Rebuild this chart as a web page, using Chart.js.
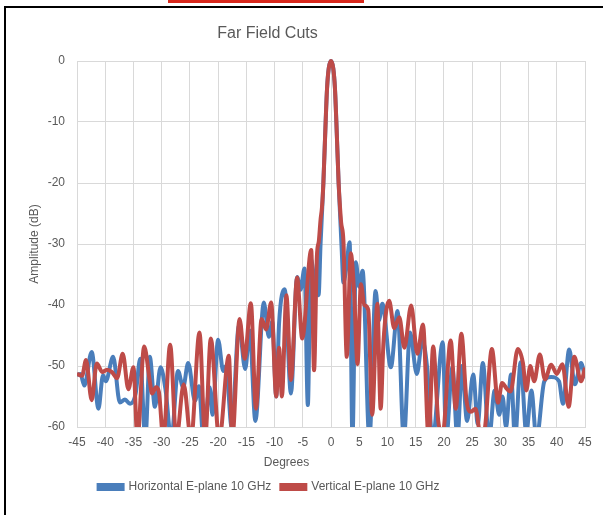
<!DOCTYPE html>
<html>
<head>
<meta charset="utf-8">
<script src="https://cdn.jsdelivr.net/npm/chart.js@4"></script>
<style>
  html, body { margin: 0; padding: 0; background: #fff; width: 603px; height: 515px; overflow: hidden; }
  #frame { position: absolute; left: 4px; top: 6px; width: 700px; height: 600px; border-left: 2px solid #000; border-top: 2px solid #000; }
  #redbar { position: absolute; left: 168px; top: 0; width: 196px; height: 3px; background: #d8281c; }
  #wrap { position: absolute; left: 0; top: 0; width: 603px; height: 515px; }
</style>
</head>
<body>
<div id="frame"></div>
<div id="redbar"></div>
<div id="wrap"><canvas id="c"></canvas></div>
<script>
// ---- Data ----
const chartTitle = "Far Field Cuts";
const xTitle = "Degrees";
const yTitle = "Amplitude (dB)";
const seriesNames = ["Horizontal E-plane 10 GHz", "Vertical E-plane 10 GHz"];

// Horizontal E-plane (blue): angle (deg) and amplitude (dB)
const hDeg = [-45,-44.4,-43.7,-42.4,-41.2,-40.4,-39.9,-38.6,-37.4,-36.5,-35.6,-34.6,-33.8,-32.9,-32.1,-31.2,-30.2,-29.3,-28.3,-27.1,-26.2,-25.3,-24.1,-23.4,-22.6,-21.5,-21.0,-20.0,-19.1,-18.6,-17.6,-16.3,-15.2,-14.4,-13.4,-11.9,-11.0,-10.4,-9.7,-9.2,-8.2,-7.1,-6.0,-5.4,-4.7,-4.1,-3.6,-2.9,-2.2,-1.85,-1.35,-0.95,-0.7,-0.4,0,0.4,0.7,0.95,1.35,1.9,2.2,2.7,3.3,3.8,4.4,5.0,5.6,6.8,7.9,8.5,9.1,10.6,11.8,12.9,14.0,15.2,16.2,17.0,18.0,19.8,20.4,21.5,22.4,23.2,24.1,25.2,26.0,26.9,28.0,29.0,29.8,30.4,31.0,31.9,32.6,33.6,34.6,35.5,36.4,37.8,39.0,40.4,41.1,42.2,43.2,44.3,45];
const hDb  = [-51.5,-51.3,-53.2,-47.7,-57,-51.5,-52.5,-48.5,-56,-55.5,-56.2,-54.5,-48.8,-62,-48.5,-56.7,-50.2,-54,-62,-50.8,-53.5,-49.5,-55.7,-53.3,-62,-53.5,-58,-45.7,-50.8,-50,-60,-43.3,-50.5,-44.2,-59,-39.6,-45.2,-42.7,-55,-43,-37.4,-54.5,-35.4,-37.5,-34,-56.4,-32.4,-36,-38.4,-30,-20,-10,-4.5,-1.2,0,-1.2,-4.5,-10,-20,-31,-36.3,-34,-29.7,-62,-33,-37,-34.4,-62,-37.7,-42.5,-39.8,-50.2,-41,-62,-44.5,-51.3,-45.8,-50,-62,-46.1,-62,-50.2,-62,-50,-59,-51.4,-59.5,-49.5,-62,-54,-58,-55,-60,-51.4,-62,-49.4,-61,-54,-62,-52.5,-51.8,-52.5,-56.2,-47.3,-53,-49.5,-52];

// Vertical E-plane (red): angle (deg) and amplitude (dB)
const vDeg = [-45,-44.1,-43.4,-42.4,-41.5,-40.5,-39.7,-38.8,-37.9,-36.9,-35.9,-35.0,-34.3,-33.1,-32.1,-31.7,-31.0,-30.5,-29.7,-28.5,-27.4,-26.1,-24.8,-23.3,-22.3,-21.3,-19.8,-18.1,-17.5,-16.2,-15.3,-14.2,-13.3,-12.3,-11.5,-10.6,-9.7,-9.2,-8.7,-7.9,-7.1,-6.0,-5.1,-3.5,-3.0,-2.5,-2.15,-1.85,-1.6,-1.35,-0.95,-0.7,-0.4,0,0.4,0.7,0.95,1.35,1.6,1.8,2.2,2.8,3.5,4.1,4.7,5.3,5.9,6.6,7.3,8.2,8.8,9.3,10.3,11.2,12.1,13.0,14.2,15.3,16.3,17.3,18.1,19.0,19.8,21.2,22.1,23.1,24.0,24.8,25.6,26.6,27.3,28.5,29.6,30.3,31.2,31.8,33.1,34.0,34.6,35.3,36.0,37.0,37.9,39.0,40.0,41.0,42.1,43.1,44.3,45];
const vDb  = [-51.3,-51.6,-49,-55.6,-49.6,-51,-50.6,-51,-52,-48,-53.8,-50.2,-62,-46.8,-52.5,-54.5,-53.5,-54.2,-62,-46.5,-62,-53,-62,-44.5,-62,-45.5,-62,-48.3,-62,-42.3,-48.8,-39.7,-57,-42.3,-44,-39.6,-55,-47,-55,-38.4,-52.3,-35.5,-45.5,-31,-50.7,-32,-29.5,-26,-24,-20,-10,-4.5,-1.2,0,-1.2,-4.5,-10,-20,-24,-26.5,-29.5,-48.5,-31.5,-38,-49.7,-36.6,-40,-40.8,-58,-39.8,-57,-46,-39.3,-43.8,-42,-47,-40.1,-48,-43.2,-62,-46.8,-59,-61,-45.8,-57,-44.7,-55.6,-57.5,-57,-62,-60,-47.2,-56,-52.8,-53.8,-54.2,-47.2,-49.5,-54,-50,-52.5,-48.1,-52.2,-49.8,-51.3,-49.7,-56.7,-48.5,-52.5,-50.3];

// Axis ranges / ticks
const xMin = -45, xMax = 45, xStep = 5;
const yMin = -60, yMax = 0, yStep = 10;

const toPoints = (xs, ys) => xs.map((x, i) => ({ x: x, y: ys[i] }));

const FONT = '"Liberation Sans", Arial, sans-serif';
const TXT = '#595959';
const GRID = '#d9d9d9';

const tweak = {
  id: 'tweak',
  afterLayout(chart) {
    const t = chart.titleBlock;
    if (t) { t.left = 4; t.right = 531; t.width = 527; }
    const l = chart.legend;
    if (l) { l.left = 4; l.right = 534; l.width = 530; }
  },
  afterDraw(chart) {
    const ctx = chart.ctx;
    ctx.save();
    ctx.font = '12px ' + FONT;
    ctx.fillStyle = TXT;
    ctx.textAlign = 'center';
    ctx.textBaseline = 'middle';
    ctx.fillText(xTitle, 286.5, 463);
    ctx.restore();
  }
};

new Chart(document.getElementById('c'), {
  type: 'line',
  data: {
    datasets: [
      {
        label: seriesNames[0],
        data: toPoints(hDeg, hDb),
        borderColor: '#4a7ebb',
        backgroundColor: '#4a7ebb',
        borderWidth: 4,
        pointRadius: 0,
        cubicInterpolationMode: 'monotone',
        clip: { left: 0, right: 0, bottom: 0, top: 5 },
        order: 2
      },
      {
        label: seriesNames[1],
        data: toPoints(vDeg, vDb),
        borderColor: '#be4b48',
        backgroundColor: '#be4b48',
        borderWidth: 4,
        pointRadius: 0,
        cubicInterpolationMode: 'monotone',
        clip: { left: 0, right: 0, bottom: 0, top: 5 },
        order: 1
      }
    ]
  },
  options: {
    responsive: true,
    maintainAspectRatio: false,
    animation: false,
    layout: { padding: { left: 6, right: 18, top: 10, bottom: 12 } },
    plugins: {
      title: {
        display: true,
        text: chartTitle,
        color: TXT,
        font: { family: FONT, size: 16, weight: 'normal' },
        padding: { top: 14.4, bottom: 17.4 }
      },
      legend: {
        display: true,
        position: 'bottom',
        labels: {
          color: TXT,
          font: { family: FONT, size: 12 },
          boxWidth: 24,
          boxHeight: 4,
          padding: 10,
          sort: (a, b) => a.datasetIndex - b.datasetIndex
        }
      },
      tooltip: { enabled: false }
    },
    scales: {
      x: {
        type: 'linear',
        min: xMin, max: xMax,
        afterFit: (s) => { s.height = 44; },
        ticks: { stepSize: xStep, color: TXT, font: { family: FONT, size: 12 }, padding: 8, maxRotation: 0 },
        grid: { color: GRID, drawTicks: false },
        border: { color: GRID }
      },
      y: {
        min: yMin, max: yMax,
        afterFit: (s) => { s.width = 71; },
        ticks: { stepSize: yStep, color: TXT, font: { family: FONT, size: 12 }, padding: 12 },
        grid: { color: GRID, drawTicks: false },
        border: { color: GRID },
        title: { display: true, text: yTitle, color: TXT, font: { family: FONT, size: 12 }, padding: { top: 21.8, bottom: 0 } }
      }
    }
  },
  plugins: [tweak]
});
</script>
</body>
</html>
